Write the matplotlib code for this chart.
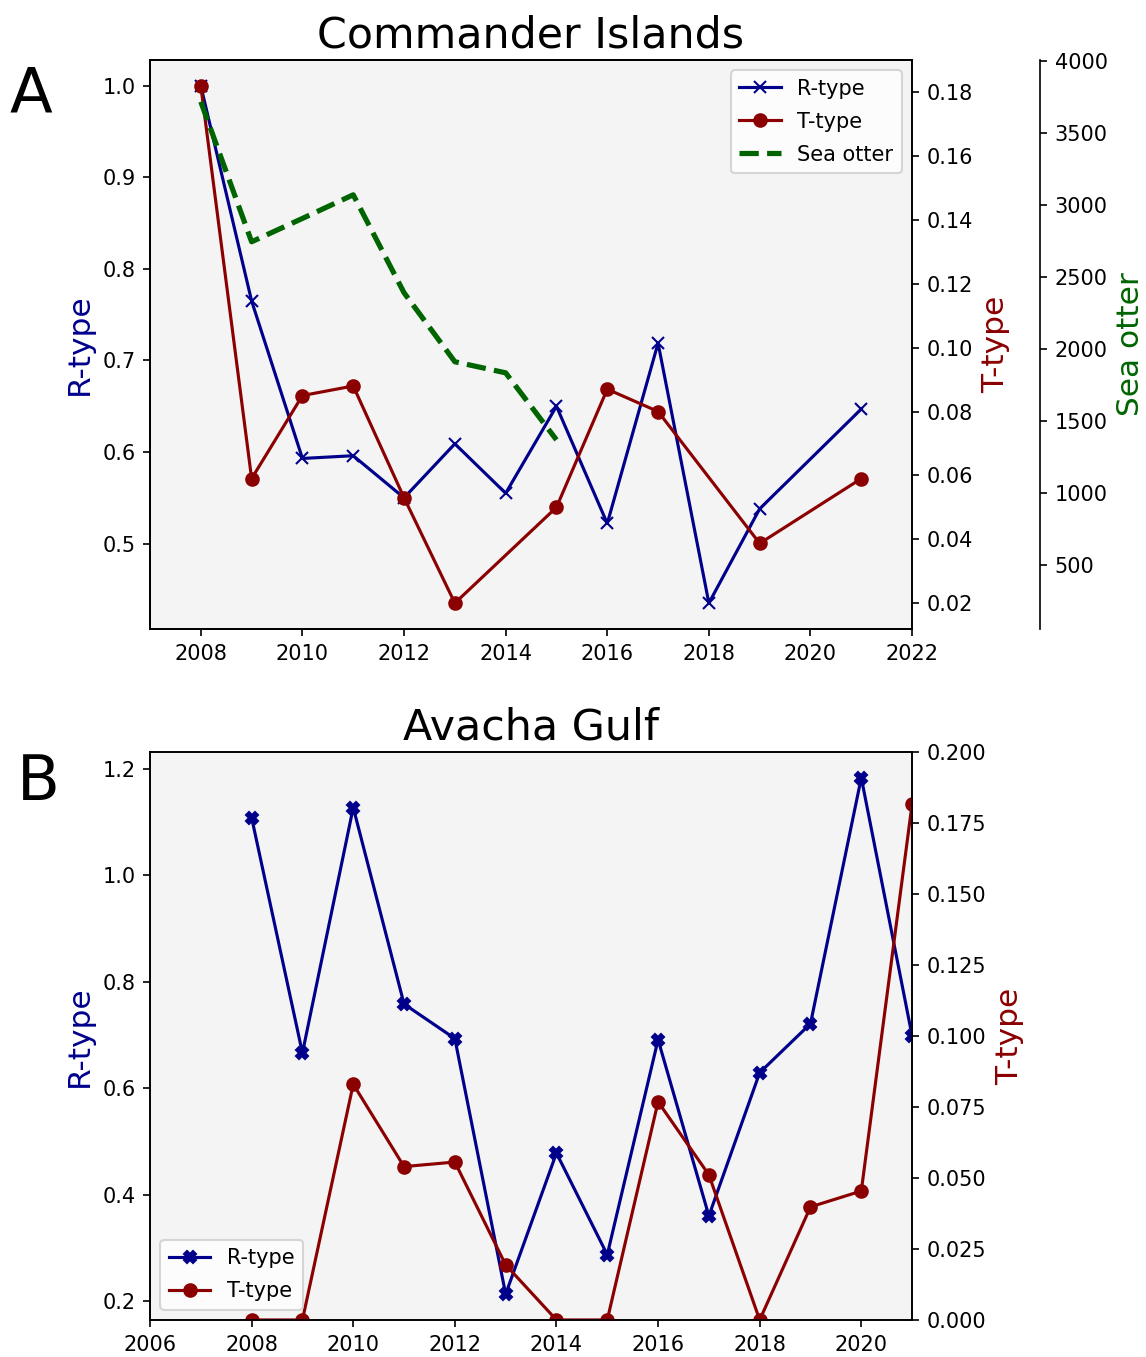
import numpy as np
import matplotlib.pyplot as plt

# ─────── Data: Commander Islands ───────
ci_r_years = [2008, 2009, 2010, 2011, 2012, 2013, 2014, 2015, 2016, 2017, 2018, 2019, 2021]
ci_r_vals = [1.0, 0.765, 0.593, 0.596, 0.550, 0.609, 0.555, 0.650, 0.522, 0.719, 0.435, 0.538, 0.647]

ci_t_years = [2008, 2009, 2010, 2011, 2012, 2013, 2015, 2016, 2017, 2019, 2021]
ci_t_vals = [0.182, 0.059, 0.085, 0.088, 0.053, 0.020, 0.050, 0.087, 0.080, 0.0387, 0.059]

otter_years = [2008, 2009, 2010, 2011, 2012, 2013, 2014, 2015]
otter_vals = [3715, 2743, 2905, 3069, 2389, 1910, 1833, 1368]

# ─────── Data: Avacha Gulf ───────
ag_years = [2008, 2009, 2010, 2011, 2012, 2013, 2014, 2015, 2016, 2017, 2018, 2019, 2020, 2021]
ag_r_vals = [1.108, 0.666, 1.127, 0.758, 0.693, 0.213, 0.478, 0.287, 0.691, 0.360, 0.629, 0.721, 1.183, 0.698]
ag_t_vals = [0.0, 0.0, 0.083, 0.054, 0.0556, 0.0194, 0.0, 0.0, 0.0768, 0.0511, 0.0, 0.0398, 0.0454, 0.1817]

R_COL = 'darkblue'
T_COL = 'darkred'
O_COL = 'darkgreen'
BG = '#f4f4f4'

fig = plt.figure(figsize=(7.64, 9.0467), dpi=150)

# ─────── Panel A ───────
ax1 = fig.add_axes([0.1309, 0.5365, 0.665, 0.4193])
ax1.set_facecolor(BG)
l1, = ax1.plot(ci_r_years, ci_r_vals, color=R_COL, marker='x', label='R-type')
ax1.set_ylabel('R-type', color=R_COL, fontsize=15)
ax1.set_xlim(2007, 2022)
ax1.set_xticks(np.arange(2008, 2023, 2))
ax1.set_title('Commander Islands', fontsize=20.5)

ax2 = ax1.twinx()
l2, = ax2.plot(ci_t_years, ci_t_vals, color=T_COL, marker='o', label='T-type')
ax2.set_ylabel('T-type', color=T_COL, fontsize=15)

ax3 = ax1.twinx()
ax3.spines['right'].set_position(('axes', 1.168))
l3, = ax3.plot(otter_years, otter_vals, color=O_COL, linestyle='--', linewidth=2.5, label='Sea otter')
ax3.set_ylim(55, 4005)
ax3.set_yticks(np.arange(500, 4001, 500))
ax3.set_ylabel('Sea otter', color=O_COL, fontsize=15)
ax3.legend(handles=[l1, l2, l3], loc='upper right', labelspacing=0.62)

# ─────── Panel B ───────
bx1 = fig.add_axes([0.1309, 0.0273, 0.665, 0.4186])
bx1.set_facecolor(BG)
m1, = bx1.plot(ag_years, ag_r_vals, color=R_COL, marker='X', label='R-type')
bx1.set_ylabel('R-type', color=R_COL, fontsize=15)
bx1.set_xlim(2006, 2021)
bx1.set_xticks(np.arange(2006, 2021, 2))
bx1.set_title('Avacha Gulf', fontsize=20.5)

bx2 = bx1.twinx()
m2, = bx2.plot(ag_years, ag_t_vals, color=T_COL, marker='o', label='T-type')
bx2.set_ylim(0, 0.2)
bx2.set_ylabel('T-type', color=T_COL, fontsize=15)
bx2.legend(handles=[m1, m2], loc='lower left', labelspacing=0.62)

# panel letters
fig.text(10 / 1146, 1 - 112 / 1357, 'A', fontsize=30, ha='left', va='baseline')
fig.text(17 / 1146, 1 - 800 / 1357, 'B', fontsize=30, ha='left', va='baseline')

fig.savefig('out.png', dpi=150)
